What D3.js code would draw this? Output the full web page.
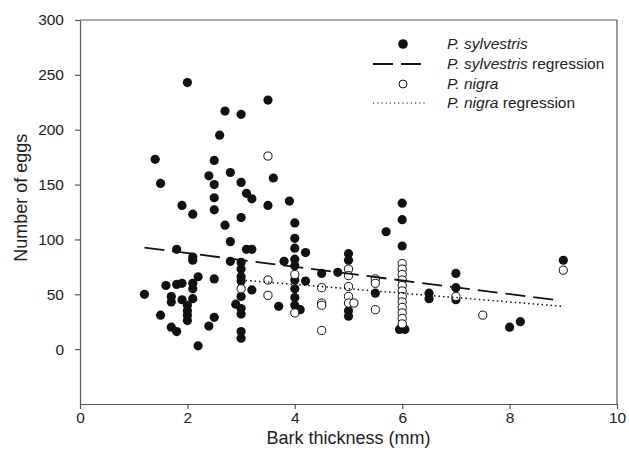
<!DOCTYPE html>
<html>
<head>
<meta charset="utf-8">
<script src="https://cdn.jsdelivr.net/npm/d3@7"></script>
<style>
  html, body { margin: 0; padding: 0; background: #fff; }
  svg { display: block; font-family: "Liberation Sans", Arial, sans-serif; }
</style>
</head>
<body>
<svg id="chart" width="629" height="454"></svg>
<script>
// ---- data ----
const sylvX = [1.2,1.4,1.5,1.5,1.6,1.7,1.7,1.7,1.8,1.8,1.8,1.9,1.9,1.9,2.0,2.0,2.0,2.0,2.0,
  2.1,2.1,2.1,2.1,2.1,2.1,2.2,2.2,2.4,2.4,2.5,2.5,2.5,2.5,2.5,2.5,2.6,2.7,2.7,2.8,2.8,2.8,2.9,
  3.0,3.0,3.0,3.0,3.0,3.0,3.0,3.0,3.0,3.0,3.0,3.0,3.1,3.1,3.2,3.2,3.2,3.5,3.5,3.6,3.7,3.8,3.9,
  4.0,4.0,4.0,4.0,4.0,4.0,4.0,4.0,4.0,4.1,4.2,4.2,4.5,4.8,5.0,5.0,5.0,5.0,5.5,5.7,
  6.0,6.0,6.0,5.95,6.05,6.5,6.5,7.0,7.0,7.0,8.0,8.2,9.0];
const sylvY = [50,173,151,31,58,48,43,20,91,59,16,131,60,45,243,40,35,31,26,
  123,84,81,60,55,46,66,3,158,21,172,150,138,127,64,29,195,217,113,161,98,80,41,
  214,152,120,79,73,66,62,48,37,32,16,10,142,91,137,91,54,227,131,156,39,80,135,
  115,101,92,82,76,63,55,47,40,36,88,62,69,70,87,81,35,30,51,107,
  133,118,94,18,18,51,46,69,56,45,20,25,81];
const nigraX = [3.0,3.5,3.5,3.5,4.0,4.0,4.5,4.5,4.5,4.5,5.0,5.0,5.0,5.0,5.0,5.1,5.5,5.5,5.5,
  6.0,6.0,6.0,6.0,6.0,6.0,6.0,6.0,6.0,6.0,6.0,6.0,7.0,7.5,9.0];
const nigraY = [55,176,63,49,68,33,56,42,40,17,73,67,57,48,42,42,64,60,36,
  78,73,68,63,58,53,48,43,38,33,28,23,48,31,72];
const sylvRegX = [1.2, 8.9];
const sylvRegY = [92.5, 44.5];
const nigraRegX = [3.0, 9.0];
const nigraRegY = [63, 39];
const xTicks = [0,2,4,6,8,10];
const yTicks = [0,50,100,150,200,250,300];
const legendLabels = [
  {it: "P. sylvestris", rest: ""},
  {it: "P. sylvestris", rest: " regression"},
  {it: "P. nigra", rest: ""},
  {it: "P. nigra", rest: " regression"}
];

// ---- chart ----
const svg = d3.select("#chart");
const x = d3.scaleLinear().domain([0,10]).range([80,617]);
const y = d3.scaleLinear().domain([-50,300]).range([404,20]);
const axisColor = "#555";
const ink = "#111";
const txt = "#222";

// frame
svg.append("line").attr("x1",x(0)).attr("x2",x(10)).attr("y1",y(300)).attr("y2",y(300)).attr("stroke",axisColor).attr("stroke-width",1.2);
svg.append("line").attr("x1",x(10)).attr("x2",x(10)).attr("y1",y(300)).attr("y2",y(-50)).attr("stroke",axisColor).attr("stroke-width",1.2);

const xAxis = svg.append("g").attr("transform",`translate(0,${y(-50)})`)
  .call(d3.axisBottom(x).tickValues(xTicks).tickSize(5).tickPadding(3).tickSizeOuter(0).tickFormat(d3.format("d")));
const yAxis = svg.append("g").attr("transform",`translate(${x(0)},0)`)
  .call(d3.axisLeft(y).tickValues(yTicks).tickSize(5).tickPadding(11).tickSizeOuter(0).tickFormat(d3.format("d")));
[xAxis,yAxis].forEach(g => {
  g.selectAll("path, line").attr("stroke",axisColor).attr("stroke-width",1.2);
  g.selectAll("text").attr("fill",txt).style("font-size","15.5px");
});

svg.append("text").attr("x",(x(0)+x(10))/2).attr("y",444).attr("text-anchor","middle")
  .style("font-size","18px").attr("fill",txt).text("Bark thickness (mm)");
svg.append("text").attr("transform",`translate(27,${y(138)}) rotate(-90)`).attr("text-anchor","middle")
  .style("font-size","18px").attr("fill",txt).text("Number of eggs");

// points
const R = 4.6;
svg.append("g").selectAll("circle").data(d3.range(sylvX.length)).join("circle")
  .attr("cx", i => x(sylvX[i])).attr("cy", i => y(sylvY[i])).attr("r", R).attr("fill", ink);
svg.append("g").selectAll("circle").data(d3.range(nigraX.length)).join("circle")
  .attr("cx", i => x(nigraX[i])).attr("cy", i => y(nigraY[i])).attr("r", R - 0.5)
  .attr("fill", "#fff").attr("stroke", ink).attr("stroke-width", 1);

// regressions
const line = d3.line().x(d => x(d[0])).y(d => y(d[1]));
svg.append("path").attr("d", line(d3.zip(sylvRegX, sylvRegY))).attr("fill","none")
  .attr("stroke", ink).attr("stroke-width", 1.8).attr("stroke-dasharray","20,8");
svg.append("path").attr("d", line(d3.zip(nigraRegX, nigraRegY))).attr("fill","none")
  .attr("stroke", ink).attr("stroke-width", 1.5).attr("stroke-dasharray","1.5,3");

// legend
const lg = svg.append("g");
const rowsY = [44, 64, 84, 103];
const symX = 403, txtX = 447;
lg.append("circle").attr("cx",symX).attr("cy",rowsY[0]).attr("r",4.8).attr("fill",ink);
lg.append("line").attr("x1",373).attr("x2",425).attr("y1",rowsY[1]).attr("y2",rowsY[1])
  .attr("stroke",ink).attr("stroke-width",1.8).attr("stroke-dasharray","20,8");
lg.append("circle").attr("cx",symX).attr("cy",rowsY[2]).attr("r",4).attr("fill","#fff").attr("stroke",ink).attr("stroke-width",1);
lg.append("line").attr("x1",373).attr("x2",425).attr("y1",rowsY[3]).attr("y2",rowsY[3])
  .attr("stroke",ink).attr("stroke-width",1.2).attr("stroke-dasharray","1.2,3");
legendLabels.forEach((l, i) => {
  const t = lg.append("text").attr("x", txtX).attr("y", rowsY[i]).attr("dy","0.35em")
    .style("font-size","15.5px").attr("fill",txt);
  t.append("tspan").style("font-style","italic").text(l.it);
  if (l.rest) t.append("tspan").text(l.rest);
});
</script>
</body>
</html>
